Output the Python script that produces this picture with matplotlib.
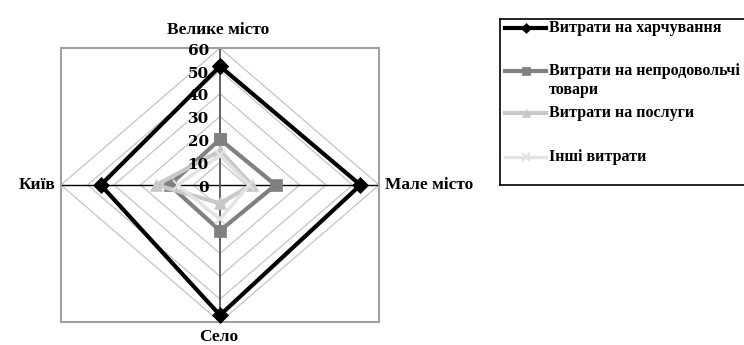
import numpy as np
import matplotlib.pyplot as plt
from matplotlib.lines import Line2D

# categories clockwise from the top
categories = ['Велике місто', 'Мале місто', 'Село', 'Київ']
food = [52, 53, 57, 45]
nonfood = [20, 21, 20, 19]
services = [15, 12, 8, 24]
other = [13, 11, 15, 16]
ticks = [0, 10, 20, 30, 40, 50, 60]

series_names = ['Витрати на харчування', 'Витрати на непродовольчі\nтовари',
                'Витрати на послуги', 'Інші витрати']
series_vals = [food, nonfood, services, other]
colors = ['#000000', '#808080', '#c8c8c8', '#e2e2e2']
markers = ['D', 's', '^', 'x']
msizes = [8, 8, 8, 7]
lws = [3, 3, 3, 2.5]

W, H = 744, 345
fig = plt.figure(figsize=(W / 100, H / 100), dpi=100)
ax = fig.add_axes([61 / W, (H - 322) / H, 318 / W, 274 / H])

rmax = 60
ax.set_xlim(-rmax, rmax)
ax.set_ylim(-rmax, rmax)
ax.set_xticks([])
ax.set_yticks([])
for s in ax.spines.values():
    s.set_color('#a0a0a0')
    s.set_linewidth(1.5)

ang = np.arange(len(categories)) * 2 * np.pi / len(categories)
angc = np.append(ang, ang[0])

# diamond grid
for t in ticks[1:]:
    ax.plot(t * np.sin(angc), t * np.cos(angc), color='#c4c4c4', lw=0.9, zorder=1)

# spokes
ax.plot([-rmax, rmax], [0, 0], color='black', lw=1, zorder=2)
ax.plot([0, 0], [-rmax, rmax], color='#555555', lw=1.3, zorder=2)

# series
for vals, c, m, ms, lw in zip(series_vals, colors, markers, msizes, lws):
    v = np.append(vals, vals[0])
    ax.plot(v * np.sin(angc), v * np.cos(angc), color=c, lw=lw, marker=m,
            markersize=ms, markeredgewidth=1.5 if m == 'x' else 0.5,
            markeredgecolor=c, zorder=3, clip_on=False)

# value labels along vertical axis
for t in ticks:
    ax.text(-4.2, t - 1.2, str(t), ha='right', va='center', fontsize=11,
            fontweight='bold', family='DejaVu Serif', zorder=4)

# category labels
lab = dict(fontsize=12.5, fontweight='bold', family='Liberation Serif')
fig.text(218 / W, 1 - 30 / H, categories[0], ha='center', va='center', **lab)
fig.text(385 / W, 1 - 185 / H, categories[1], ha='left', va='center', **lab)
fig.text(219 / W, 1 - 337 / H, categories[2], ha='center', va='center', **lab)
fig.text(55 / W, 1 - 185 / H, categories[3], ha='right', va='center', **lab)

# legend drawn by hand in pixel coordinates
lax = fig.add_axes([500 / W, (H - 185) / H, 260 / W, 166 / H])
lax.set_xlim(500, 760)
lax.set_ylim(185, 19)
lax.set_xticks([])
lax.set_yticks([])
for s in lax.spines.values():
    s.set_color('black')
    s.set_linewidth(1.2)
rows = [28, 71, 113, 157]
legf = dict(fontsize=11.5, fontweight='bold', family='Liberation Serif')
for name, c, m, lw, y in zip(series_names, colors, markers, lws, rows):
    lax.add_line(Line2D([505, 546], [y, y], color=c, lw=lw))
    lax.add_line(Line2D([525.5], [y], color=c, marker=m, markersize=6 if m != 'D' else 5,
                        markeredgecolor=c, markeredgewidth=1.5 if m == 'x' else 0.5))
    for k, part in enumerate(name.split('\n')):
        lax.text(549, y + 19 * k, part, ha='left', va='center', **legf)

fig.savefig('out.png', dpi=100)
